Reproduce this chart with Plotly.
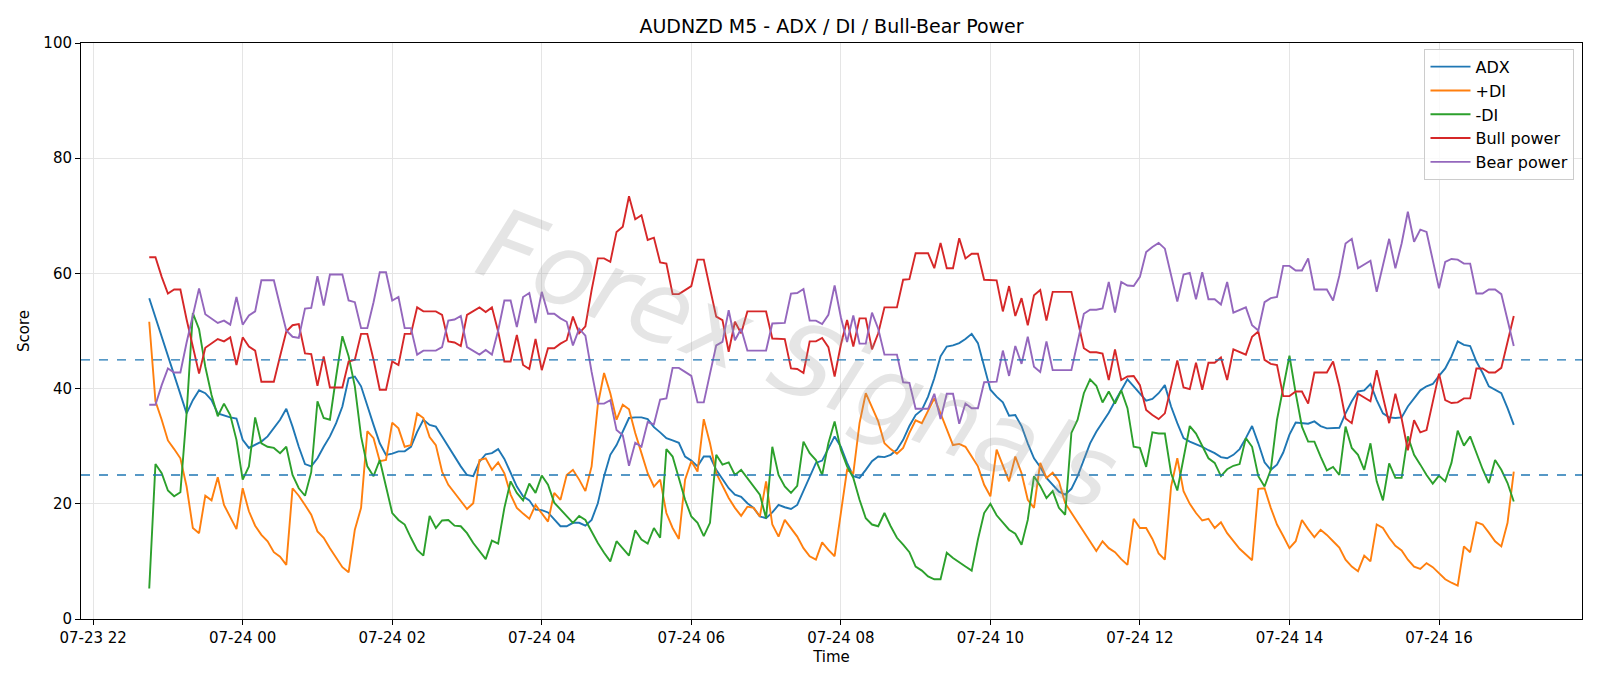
import pandas as pd
import plotly.graph_objects as go

start_time = "2025-07-23 22:45"
n_points = 220

adx = [55.7, 52.3, 49.0, 45.7, 42.4, 39.0, 35.7, 38.0, 39.7, 39.2, 38.0, 35.7, 35.3, 35.0, 34.8, 31.1, 29.7, 30.2, 30.8, 31.7,
       33.1, 34.6, 36.5, 33.4, 29.9, 26.9, 26.5, 27.9, 29.9, 31.7, 34.0, 36.9, 41.8, 42.1, 40.4, 36.9, 33.7, 30.5, 28.5, 28.7,
       29.1, 29.1, 29.9, 32.5, 34.6, 33.7, 33.4, 31.7, 29.9, 28.2, 26.5, 25.0, 24.8, 27.3, 28.6, 28.8, 29.5, 27.8, 25.3, 23.0,
       21.3, 20.6, 19.0, 18.9, 18.5, 17.2, 16.1, 16.1, 16.7, 16.7, 16.2, 17.2, 20.1, 24.8, 28.5, 30.2, 32.5, 34.9, 35.0, 35.0,
       34.7, 33.3, 32.4, 31.4, 31.0, 30.6, 28.2, 27.5, 26.5, 28.2, 28.2, 25.9, 24.3, 22.7, 21.6, 21.2, 20.1, 19.3, 17.8, 17.5,
       18.5, 19.8, 19.4, 19.1, 19.8, 22.2, 24.8, 27.1, 27.5, 29.5, 31.7, 29.9, 27.1, 24.8, 24.5, 25.9, 27.4, 28.2, 28.1, 28.5,
       29.4, 31.1, 33.5, 35.4, 36.3, 38.6, 41.8, 45.6, 47.3, 47.5, 47.9, 48.6, 49.5, 47.9, 43.8, 39.8, 38.6, 37.6, 35.3, 35.4,
       33.5, 30.5, 27.9, 26.4, 24.5, 23.3, 22.1, 21.6, 22.6, 24.8, 27.6, 30.5, 32.5, 34.1, 35.8, 37.8, 39.7, 41.6, 40.4, 39.2,
       37.9, 38.2, 39.2, 40.6, 36.9, 34.0, 31.4, 30.8, 30.4, 29.9, 29.3, 28.8, 28.1, 27.9, 28.5, 29.5, 31.4, 33.5, 30.5, 27.2,
       25.9, 26.8, 28.9, 32.0, 34.1, 34.0, 33.9, 34.3, 33.5, 33.1, 33.1, 33.2, 35.7, 37.8, 39.5, 39.7, 40.8, 38.0, 35.7, 35.0,
       34.9, 35.0, 36.9, 38.3, 39.7, 40.4, 40.8, 42.2, 43.5, 45.6, 48.2, 47.6, 47.4, 44.7, 42.7, 40.4, 39.8, 39.2, 36.6, 33.7]

plus_di = [51.6, 37.8, 34.6, 31.0, 29.5, 27.9, 23.0, 15.8, 14.9, 21.4, 20.6, 24.6, 19.8, 17.8, 15.6, 22.7, 18.7, 16.2, 14.6, 13.5,
           11.6, 10.8, 9.4, 22.7, 21.4, 19.8, 18.1, 15.2, 14.1, 12.3, 10.6, 9.0, 8.1, 15.5, 19.3, 32.6, 31.4, 27.4, 27.6, 34.1,
           33.1, 29.9, 30.2, 35.7, 34.9, 31.6, 30.2, 25.6, 23.3, 21.9, 20.4, 19.1, 20.1, 27.6, 27.9, 25.9, 27.2, 25.3, 21.6, 19.3,
           18.3, 17.4, 19.8, 18.4, 16.9, 21.9, 20.7, 25.0, 25.9, 24.2, 22.2, 26.5, 37.2, 42.7, 39.2, 34.6, 37.2, 36.4, 32.3, 28.8,
           25.3, 23.0, 24.2, 18.4, 15.8, 13.9, 24.2, 27.4, 25.6, 34.7, 30.5, 25.3, 23.0, 21.0, 19.3, 17.9, 19.5, 19.3, 17.8, 23.9,
           16.4, 14.3, 17.2, 15.8, 14.3, 12.3, 10.9, 10.3, 13.3, 12.0, 10.9, 18.4, 25.9, 25.3, 34.0, 39.2, 36.9, 34.3, 30.5, 29.5,
           28.7, 29.7, 32.3, 34.5, 34.0, 36.3, 38.3, 35.7, 32.8, 30.2, 30.4, 29.9, 28.2, 26.5, 23.3, 21.3, 29.4, 26.6, 23.9, 28.2,
           25.3, 20.7, 19.3, 27.1, 24.5, 25.4, 23.9, 20.1, 18.4, 16.7, 15.2, 13.5, 11.8, 13.5, 12.3, 11.6, 10.4, 9.4, 17.4, 15.8,
           15.8, 13.9, 11.4, 10.3, 23.0, 27.9, 22.2, 20.0, 18.4, 17.1, 17.4, 15.8, 16.8, 14.9, 13.5, 12.2, 11.2, 10.2, 22.6, 22.7,
           19.3, 16.4, 14.4, 12.3, 13.5, 17.2, 15.6, 14.2, 15.5, 14.6, 13.5, 12.4, 10.3, 9.1, 8.3, 11.0, 10.0, 16.4, 15.8, 14.1,
           12.7, 11.9, 10.3, 9.1, 8.7, 9.7, 9.0, 8.0, 6.9, 6.3, 5.8, 12.6, 11.6, 16.8, 16.4, 15.0, 13.5, 12.6, 16.7, 25.6]

minus_di = [5.3, 26.9, 25.3, 22.3, 21.3, 22.0, 35.7, 53.1, 50.3, 43.8, 38.9, 35.2, 37.4, 35.4, 31.1, 24.2, 26.5, 35.0, 30.5, 29.9,
            29.7, 28.8, 29.9, 25.0, 22.7, 21.4, 25.5, 37.8, 34.9, 34.6, 42.1, 49.1, 45.6, 40.4, 31.7, 26.5, 24.8, 27.6, 23.0, 18.4,
            17.2, 16.4, 14.1, 12.0, 11.0, 17.9, 15.8, 17.1, 17.2, 16.2, 16.1, 14.9, 13.2, 11.7, 10.4, 13.6, 13.1, 19.3, 23.9, 21.9,
            20.6, 23.5, 21.9, 24.9, 23.3, 20.2, 19.0, 17.8, 16.7, 17.9, 17.2, 15.2, 13.2, 11.5, 10.0, 13.5, 12.2, 11.0, 15.4, 13.8,
            13.1, 15.8, 14.1, 29.5, 28.2, 24.2, 20.7, 17.8, 16.7, 14.4, 16.7, 28.5, 26.8, 27.2, 25.0, 25.9, 24.5, 23.0, 21.6, 17.5,
            29.9, 25.0, 23.0, 21.9, 23.1, 30.8, 28.8, 27.6, 25.0, 30.5, 34.3, 29.4, 26.5, 24.5, 20.7, 17.5, 16.4, 16.1, 18.4, 16.1,
            14.1, 12.9, 11.6, 9.1, 8.4, 7.4, 6.9, 6.9, 11.5, 10.6, 9.8, 9.1, 8.4, 13.8, 18.4, 20.0, 18.0, 16.7, 15.5, 14.8,
            12.9, 17.2, 24.8, 23.1, 21.0, 22.2, 19.3, 18.1, 32.3, 34.6, 39.2, 41.6, 40.5, 37.6, 39.5, 37.4, 39.7, 36.6, 29.9, 29.7,
            26.4, 32.4, 32.2, 32.2, 25.3, 22.3, 27.6, 33.5, 32.2, 29.9, 27.9, 27.1, 24.8, 26.0, 26.6, 26.9, 31.4, 29.9, 24.8, 23.0,
            25.9, 34.6, 40.4, 45.7, 39.2, 33.4, 30.8, 30.8, 28.2, 25.8, 26.4, 25.0, 33.4, 29.7, 28.5, 25.9, 30.5, 23.9, 20.6, 27.0,
            24.5, 24.5, 31.7, 28.5, 26.8, 25.0, 23.5, 24.9, 23.9, 27.1, 32.7, 30.1, 31.7, 28.8, 26.0, 23.6, 27.6, 25.9, 23.6, 20.4]

bull_power = [62.8, 62.8, 59.4, 56.5, 57.2, 57.2, 52.0, 47.0, 42.6, 47.1, 47.9, 48.6, 48.2, 48.9, 44.1, 48.9, 47.3, 46.6, 41.2, 41.2,
              41.2, 45.6, 49.9, 51.0, 51.2, 46.1, 46.0, 40.5, 45.6, 40.2, 40.2, 40.2, 44.7, 45.0, 49.5, 49.5, 45.0, 39.8, 39.8, 44.7,
              44.1, 49.5, 49.5, 54.1, 53.4, 53.4, 53.4, 52.8, 48.2, 48.0, 47.4, 52.8, 53.4, 54.1, 53.3, 54.1, 49.9, 44.7, 44.7, 49.3,
              44.1, 43.4, 48.6, 43.2, 47.0, 47.0, 47.8, 48.4, 52.5, 49.6, 50.8, 57.1, 62.6, 62.6, 62.0, 67.2, 68.1, 73.4, 69.4, 70.1,
              65.8, 66.2, 61.9, 61.7, 56.4, 56.4, 57.1, 57.8, 62.4, 62.4, 57.4, 52.5, 51.9, 46.4, 51.6, 49.6, 53.4, 53.4, 53.4, 53.4,
              48.7, 48.7, 48.6, 43.5, 43.4, 42.7, 48.2, 48.2, 48.8, 47.2, 42.1, 47.6, 51.9, 47.3, 52.2, 52.2, 46.8, 49.6, 54.1, 54.1,
              54.1, 58.9, 59.0, 63.5, 63.5, 63.5, 60.9, 65.3, 60.9, 60.9, 66.1, 62.6, 63.4, 63.4, 58.9, 58.8, 58.8, 53.4, 57.8, 52.6,
              55.7, 51.0, 56.2, 57.1, 51.8, 56.8, 56.8, 56.8, 56.8, 51.9, 47.0, 46.3, 46.3, 46.1, 41.5, 46.8, 41.5, 42.1, 42.2, 40.6,
              36.3, 35.4, 34.7, 35.7, 40.4, 44.9, 40.2, 39.9, 44.5, 39.8, 44.5, 44.5, 45.4, 41.5, 46.8, 46.3, 45.9, 49.0, 49.9, 45.0,
              44.3, 44.1, 38.7, 38.7, 39.5, 39.5, 37.4, 42.8, 42.8, 42.8, 44.7, 40.4, 34.8, 34.0, 39.1, 38.5, 37.8, 43.2, 38.8, 34.0,
              39.1, 34.8, 29.3, 34.5, 32.4, 32.8, 37.7, 42.6, 38.0, 37.5, 37.6, 38.3, 38.3, 43.5, 43.5, 42.8, 42.8, 43.6, 48.1, 52.6]

bear_power = [37.2, 37.2, 40.6, 43.5, 42.8, 42.8, 48.0, 53.0, 57.4, 52.9, 52.1, 51.4, 51.8, 51.1, 55.9, 51.1, 52.7, 53.4, 58.8, 58.8,
              58.8, 54.4, 50.1, 49.0, 48.8, 53.9, 54.0, 59.5, 54.4, 59.8, 59.8, 59.8, 55.3, 55.0, 50.5, 50.5, 55.0, 60.2, 60.2, 55.3,
              55.9, 50.5, 50.5, 45.9, 46.6, 46.6, 46.6, 47.2, 51.8, 52.0, 52.6, 47.2, 46.6, 45.9, 46.7, 45.9, 50.1, 55.3, 55.3, 50.7,
              55.9, 56.6, 51.4, 56.8, 53.0, 53.0, 52.2, 51.6, 47.5, 50.4, 49.2, 42.9, 37.4, 37.4, 38.0, 32.8, 31.9, 26.6, 30.6, 29.9,
              34.2, 33.8, 38.1, 38.3, 43.6, 43.6, 42.9, 42.2, 37.6, 37.6, 42.6, 47.5, 48.1, 53.6, 48.4, 50.4, 46.6, 46.6, 46.6, 46.6,
              51.3, 51.3, 51.4, 56.5, 56.6, 57.3, 51.8, 51.8, 51.2, 52.8, 57.9, 52.4, 48.1, 52.7, 47.8, 47.8, 53.2, 50.4, 45.9, 45.9,
              45.9, 41.1, 41.0, 36.5, 36.5, 36.5, 39.1, 34.7, 39.1, 39.1, 33.9, 37.4, 36.6, 36.6, 41.1, 41.2, 41.2, 46.6, 42.2, 47.4,
              44.3, 49.0, 43.8, 42.9, 48.2, 43.2, 43.2, 43.2, 43.2, 48.1, 53.0, 53.7, 53.7, 53.9, 58.5, 53.2, 58.5, 57.9, 57.8, 59.4,
              63.7, 64.6, 65.3, 64.3, 59.6, 55.1, 59.8, 60.1, 55.5, 60.2, 55.5, 55.5, 54.6, 58.5, 53.2, 53.7, 54.1, 51.0, 50.1, 55.0,
              55.7, 55.9, 61.3, 61.3, 60.5, 60.5, 62.6, 57.2, 57.2, 57.2, 55.3, 59.6, 65.2, 66.0, 60.9, 61.5, 62.2, 56.8, 61.2, 66.0,
              60.9, 65.2, 70.7, 65.5, 67.6, 67.2, 62.3, 57.4, 62.0, 62.5, 62.4, 61.7, 61.7, 56.5, 56.5, 57.2, 57.2, 56.4, 51.9, 47.4]

levels = [25, 45]
series_names = ["ADX", "+DI", "-DI", "Bull power", "Bear power"]
series_colors = ["#1f77b4", "#ff7f0e", "#2ca02c", "#d62728", "#9467bd"]

times = pd.date_range(start=start_time, periods=n_points, freq="5min")

fig = go.Figure()
for name, vals, col in zip(series_names, [adx, plus_di, minus_di, bull_power, bear_power], series_colors):
    fig.add_trace(go.Scatter(x=times, y=vals, mode="lines", name=name,
                             line=dict(color=col, width=1.9)))

for lv in levels:
    fig.add_hline(y=lv, line=dict(color="#1f77b4", width=1.3, dash="dash"))

pad = (times[-1] - times[0]) * 0.05
fig.update_xaxes(
    range=[times[0] - pad, times[-1] + pad],
    tickformat="%m-%d %H", dtick=2 * 3600 * 1000, tick0="2025-07-23 22:00",
    showgrid=True, gridcolor="#e5e5e5", gridwidth=1,
    showline=True, mirror=True, linecolor="black", linewidth=1,
    ticks="outside", ticklen=5, tickcolor="black",
    tickfont=dict(size=15, color="black"),
    title=dict(text="Time", font=dict(size=15, color="black"), standoff=5),
    zeroline=False,
)
fig.update_yaxes(
    range=[0, 100], dtick=20,
    showgrid=True, gridcolor="#e5e5e5", gridwidth=1,
    showline=True, mirror=True, linecolor="black", linewidth=1,
    ticks="outside", ticklen=5, tickcolor="black",
    tickfont=dict(size=15, color="black"),
    title=dict(text="Score", font=dict(size=15, color="black"), standoff=10),
    zeroline=False,
)

fig.add_annotation(
    text="Forex Signals", xref="paper", yref="paper", x=0.478, y=0.45,
    showarrow=False, textangle=21,
    font=dict(size=100, color="rgba(150,150,150,0.25)", family="DejaVu Sans",
              style="italic", weight=200),
)

fig.update_layout(
    width=1600, height=686,
    margin=dict(l=81, r=18, t=43, b=67),
    paper_bgcolor="white", plot_bgcolor="white",
    font=dict(family="DejaVu Sans", color="black"),
    title=dict(text="AUDNZD M5 - ADX / DI / Bull-Bear Power", x=0.5, xref="paper", xanchor="center",
               y=1 - 26 / 686, yanchor="middle", font=dict(size=19, color="black")),
    legend=dict(x=0.995, y=0.99, xanchor="right", yanchor="top",
                bgcolor="rgba(255,255,255,0.8)", bordercolor="#cccccc", borderwidth=1,
                font=dict(size=16, color="black"), itemwidth=40),
    showlegend=True,
)

fig.write_html("out.html")
